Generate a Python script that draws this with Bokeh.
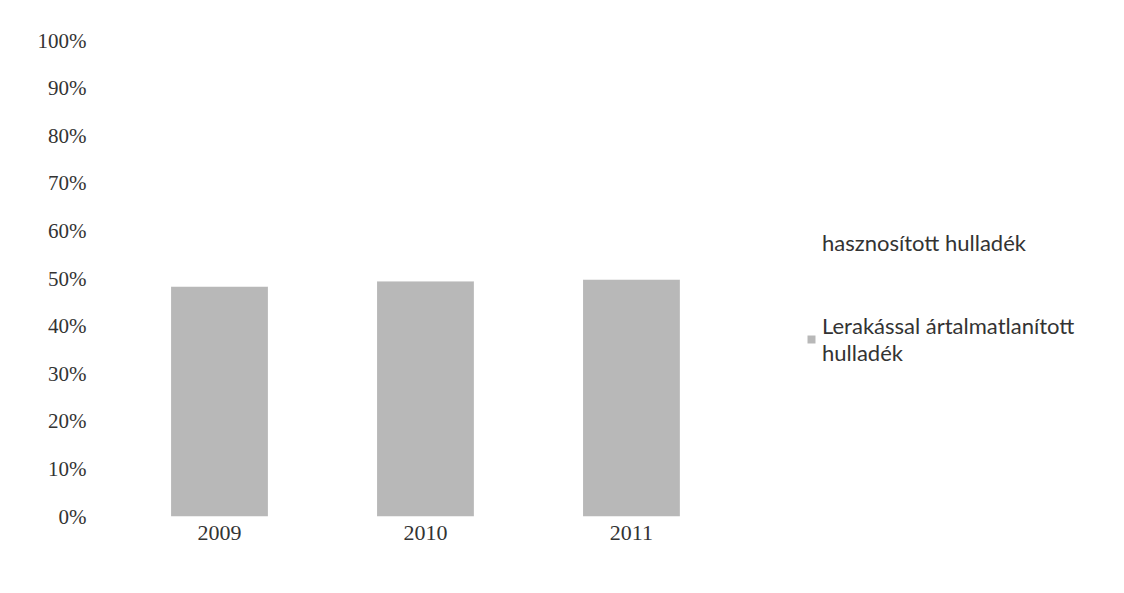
from bokeh.plotting import figure
from bokeh.models import ColumnDataSource, Legend, LegendItem, FixedTicker, NumeralTickFormatter, Range1d
from bokeh.embed import file_html
from bokeh.resources import INLINE

years = ["2009", "2010", "2011"]
lerakassal = [0.483, 0.494, 0.498]
hasznositott = [0.517, 0.506, 0.502]
y_ticks = [0.0, 0.1, 0.2, 0.3, 0.4, 0.5, 0.6, 0.7, 0.8, 0.9, 1.0]

pos = list(range(len(years)))
src = ColumnDataSource(dict(x=pos, ler=lerakassal, hasz=hasznositott))

p = figure(x_range=Range1d(-0.5, 4.316), y_range=(0, 1),
           width=1108, height=577, output_backend="svg", toolbar_location=None,
           min_border_left=116, min_border_right=0, min_border_top=40, min_border_bottom=61)

stack = p.vbar_stack(["ler", "hasz"], x="x", width=0.47, source=src,
                     fill_color=["#b8b8b8", "#ffffff"], line_color=[None, None])

p.xgrid.grid_line_color = None
p.ygrid.grid_line_color = None
p.outline_line_color = None

p.xaxis.ticker = FixedTicker(ticks=pos)
p.xaxis.major_label_overrides = {i: y for i, y in zip(pos, years)}
p.yaxis.ticker = FixedTicker(ticks=y_ticks)
p.yaxis.formatter = NumeralTickFormatter(format="0%")
for ax in (p.xaxis[0], p.yaxis[0]):
    ax.axis_line_color = None
    ax.major_tick_line_color = None
    ax.minor_tick_line_color = None
    ax.major_label_text_font = "Liberation Serif"
    ax.major_label_text_font_size = "21px"
    ax.major_label_text_color = "#333333"
p.yaxis.major_label_standoff = 24
p.xaxis.major_label_standoff = 3
p.xaxis.major_label_text_font_size = "22px"

legend = Legend(items=[
    LegendItem(label="hasznosított hulladék", renderers=[stack[1]]),
    LegendItem(label="Lerakással ártalmatlanított\nhulladék", renderers=[stack[0]]),
], location=(690, 150))
legend.label_text_font = "Lato"
legend.label_text_font_size = "22px"
legend.label_text_color = "#333333"
legend.border_line_color = None
legend.background_fill_alpha = 0
legend.padding = 0
legend.margin = 0
legend.spacing = 56
legend.glyph_width = 10
legend.glyph_height = 10
legend.label_standoff = 6
p.add_layout(legend, "center")

open("out.html", "w").write(file_html(p, INLINE))
